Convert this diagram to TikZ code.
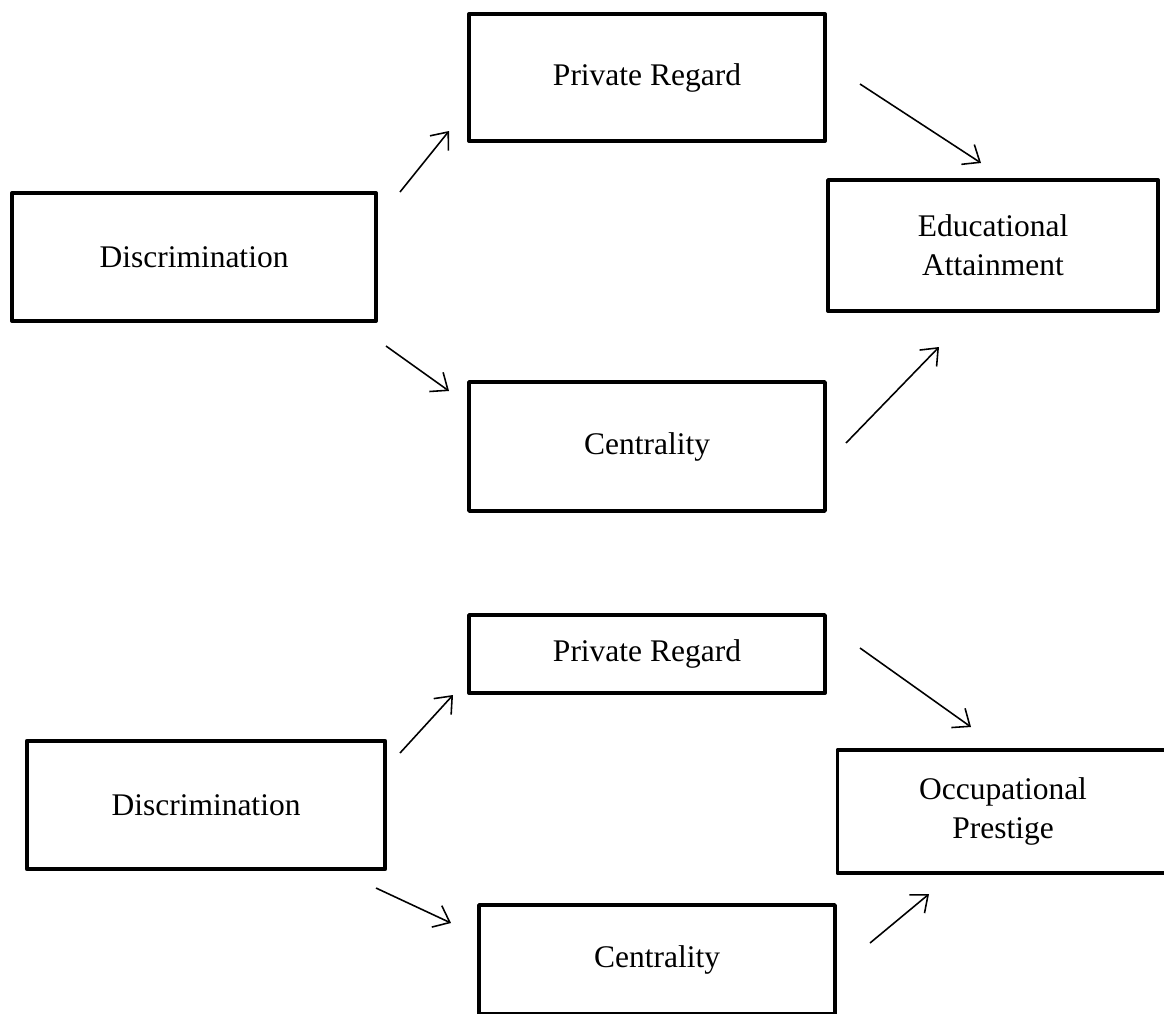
\documentclass[tikz,border=0pt]{standalone}
\usepackage{fontspec}
\setmainfont{Liberation Serif}
\usetikzlibrary{arrows.meta}

\begin{document}
\begin{tikzpicture}[x=0.381pt,y=-0.381pt,
	varbox/.style={draw,line width=1.5pt,line join=round,inner sep=0pt,align=center,
		font=\fontsize{12}{14.9}\selectfont},
	arr/.style={line width=0.6pt,-{Straight Barb[length=5.5pt,width=9pt]}}]
			\useasboundingbox (0,0) rectangle (1164,1013);
			\clip (0,0) rectangle (1164,1013);
			% educational attainment
			\node[varbox,minimum width=138.7pt,minimum height=48.8pt] (disc1) at (194,257) {Discrimination};
			\node[varbox,minimum width=135.6pt,minimum height=48.4pt] (priv1) at (647,77.5) {Private Regard};
			\node[varbox,minimum width=135.6pt,minimum height=49.1pt] (cent1) at (647,446.5) {Centrality};
			\node[varbox,minimum width=125.7pt,minimum height=49.9pt] (edu1) at (993,245.5) {Educational\\Attainment};
			% occupational prestige
			\node[varbox,minimum width=136.6pt,minimum height=48.8pt] (disc2) at (206,805) {Discrimination};
			\node[varbox,minimum width=135.6pt,minimum height=29.7pt] (priv2) at (647,654) {Private Regard};
			\node[varbox,minimum width=135.6pt,minimum height=41.5pt] (cent2) at (657,959.5) {Centrality};
			\node[varbox,minimum width=126.1pt,minimum height=46.9pt] (occ2) at (1003,811.5) {Occupational\\Prestige};
			
			\foreach \n/\sx/\sy/\ex/\ey in {1/400/192/449/131, 2/386/346/449/391, 3/860/84/981/163, 4/846/443/939/347,
				5/400/753/453/695, 6/376/888/451/923, 7/860/648/971/727, 8/870/943/929/894}
			{
			\coordinate (s\n) at (\sx,\sy);
			\coordinate (e\n) at (\ex,\ey);
			\draw[arr] (s\n) -- (e\n);
			}
\end{tikzpicture}
\end{document}
